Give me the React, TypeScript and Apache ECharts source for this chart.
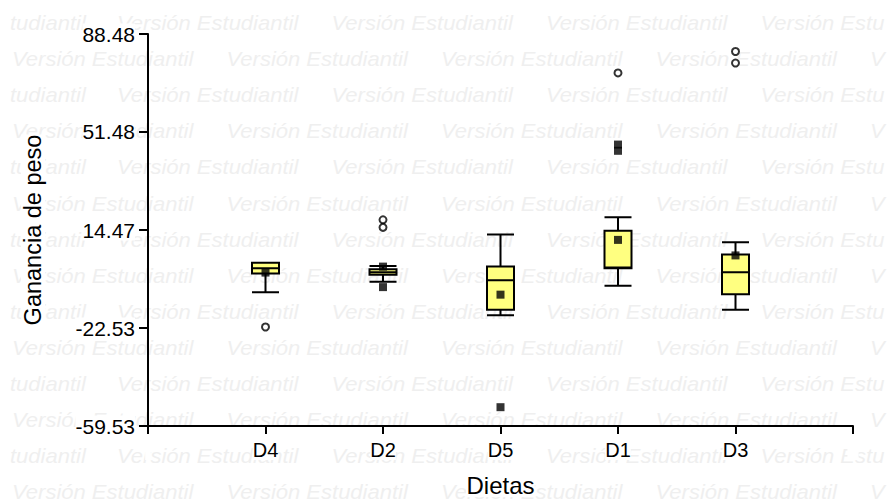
import React, { useEffect, useRef } from 'react';
import * as echarts from 'echarts';

const categories = ['D4', 'D2', 'D5', 'D1', 'D3'];
const whiskerLow = [-9.07, -5.07, -17.67, -6.58, -15.67];
const q1 = [-1.97, -2.46, -15.67, 0.02, -9.82];
const median = [0.0, -1.5, -4.46, 0.3, -1.48];
const q3 = [2.14, -0.36, 0.65, 14.23, 5.25];
const whiskerHigh = [2.14, 0.91, 12.73, 19.33, 9.88];
const means = [-1.6, 0.65, -9.94, 10.74, 4.88];
const outlierCats = ['D4', 'D2', 'D2', 'D1', 'D3', 'D3'];
const outlierValues = [-22.15, 18.33, 15.48, 73.78, 81.88, 77.52];
const extremeCats = ['D2', 'D5', 'D1', 'D1'];
const extremeValues = [-7.09, -52.43, 46.73, 44.38];
const yTicks = [-59.53, -22.53, 14.47, 51.48, 88.48];
const yTickLabels = ['-59.53', '-22.53', '14.47', '51.48', '88.48'];
const watermarkText = 'Versión Estudiantil';
const watermarkLeftPart = 'tudiantil';
const watermarkRightPartEven = 'Versión Estu';
const watermarkRightPartOdd = 'V';

export default function App() {
  const ref = useRef<HTMLDivElement>(null);
  useEffect(() => {
    if (!ref.current) return;
    const chart = echarts.init(ref.current, undefined, { renderer: 'svg' });
    const axisCats = [' ', ...categories, '  '];

    const wmStyle = {
      fill: '#EFEFEF',
      fontSize: 20,
      fontStyle: 'italic',
      fontFamily: 'Liberation Sans',
      verticalAlign: 'middle',
      textAlign: 'left',
    };
    const wm: any[] = [];
    for (let r = 0; r < 14; r++) {
      const y = 23 + r * 36.08;
      const even = r % 2 === 0;
      const items: [number, string][] = even
        ? [
            [2, watermarkLeftPart],
            [109, watermarkText],
            [323.5, watermarkText],
            [538, watermarkText],
            [752.5, watermarkRightPartEven],
          ]
        : [
            [4, watermarkText],
            [218.5, watermarkText],
            [433, watermarkText],
            [647.5, watermarkText],
            [862, watermarkRightPartOdd],
          ];
      items.forEach(([x, t]) => {
        wm.push({
          type: 'text',
          x,
          y,
          scaleX: 1.1,
          z: -10,
          silent: true,
          style: { ...wmStyle, text: t },
        });
      });
    }

    const labelFont = { fontFamily: 'Liberation Sans', color: '#000' };

    chart.setOption({
      animation: false,
      backgroundColor: '#fff',
      graphic: wm,
      grid: { left: 140, right: 36, top: 34, bottom: 72, containLabel: false },
      xAxis: {
        type: 'category',
        data: axisCats,
        boundaryGap: false,
        axisLine: { onZero: false, lineStyle: { color: '#000', width: 2 } },
        axisTick: { show: true, length: 8, interval: 0, lineStyle: { color: '#000', width: 2 } },
        axisLabel: { ...labelFont, fontSize: 20, margin: 14, interval: 0, backgroundColor: '#fff' },
        splitLine: { show: false },
        name: 'Dietas',
        nameLocation: 'middle',
        nameGap: 47,
        nameTextStyle: { ...labelFont, fontSize: 24, backgroundColor: '#fff' },
      },
      yAxis: {
        type: 'value',
        min: -59.53,
        max: 88.48,
        axisLine: { show: true, lineStyle: { color: '#000', width: 2 } },
        axisTick: { show: true, length: 9, customValues: yTicks, lineStyle: { color: '#000', width: 2 } },
        axisLabel: {
          ...labelFont,
          fontSize: 21,
          margin: 13,
          customValues: yTicks,
          backgroundColor: '#fff',
          formatter: (v: number) => {
            const i = yTicks.findIndex((t) => Math.abs(t - v) < 1e-6);
            return i >= 0 ? yTickLabels[i] : '';
          },
        },
        splitLine: { show: false },
        name: 'Ganancia de peso',
        nameLocation: 'middle',
        nameRotate: 90,
        nameGap: 103,
        nameTextStyle: { ...labelFont, fontSize: 23.5, backgroundColor: '#fff' },
      },
      series: [
        {
          type: 'boxplot',
          boxWidth: [27, 27],
          encode: { x: 0, y: [1, 2, 3, 4, 5] },
          data: categories.map((c, i) => [c, whiskerLow[i], q1[i], median[i], q3[i], whiskerHigh[i]]),
          itemStyle: { color: '#FFFF80', borderColor: '#000', borderWidth: 2 },
          z: 3,
        },
        {
          type: 'scatter',
          symbol: 'rect',
          symbolSize: 8,
          data: categories.map((c, i) => [c, means[i]]),
          itemStyle: { color: '#000' },
          z: 4,
        },
        {
          type: 'scatter',
          symbol: 'rect',
          symbolSize: 8,
          data: extremeCats.map((c, i) => [c, extremeValues[i]]),
          itemStyle: { color: '#000' },
          z: 4,
        },
        {
          type: 'scatter',
          symbol: 'circle',
          symbolSize: 7,
          data: outlierCats.map((c, i) => [c, outlierValues[i]]),
          itemStyle: { color: '#fff', borderColor: '#000', borderWidth: 2 },
          z: 4,
        },
      ],
    });
    return () => chart.dispose();
  }, []);
  return (
    <div
      ref={ref}
      style={{ position: 'absolute', left: 8, top: 0, width: 881, height: 502, background: '#fff' }}
    />
  );
}
